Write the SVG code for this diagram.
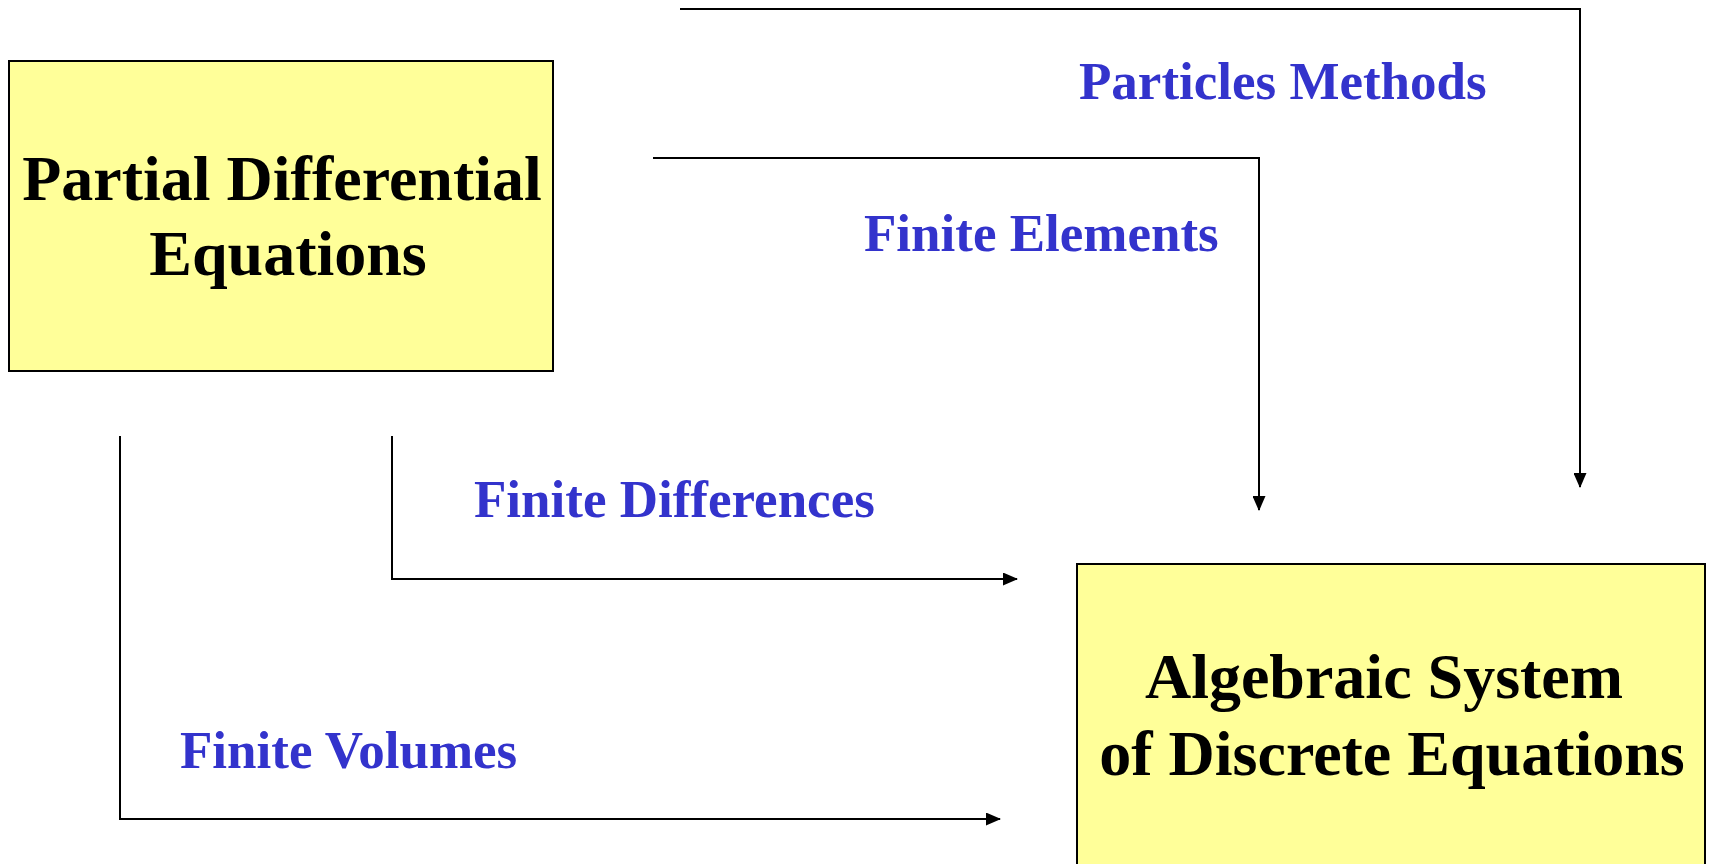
<svg xmlns="http://www.w3.org/2000/svg" width="1709" height="864" viewBox="0 0 1709 864">
<style>
.box{fill:#FFFF99;stroke:#000;stroke-width:2}
.nt{font-family:"Liberation Serif","Times New Roman",serif;font-weight:bold;font-size:64px;fill:#000;text-anchor:middle}
.lb{font-family:"Liberation Serif","Times New Roman",serif;font-weight:bold;font-size:53px;fill:#3333CC}
.cn{fill:none;stroke:#000;stroke-width:2}
</style>
<defs>
<marker id="arr" viewBox="0 0 15 13" refX="14" refY="6.5" markerWidth="15" markerHeight="13" markerUnits="userSpaceOnUse" orient="auto">
<path d="M0,0 L15,6.5 L0,13 z" fill="#000"/>
</marker>
</defs>
<rect width="1709" height="864" fill="#fff"/>
<g id="pde">
<rect class="box" x="9" y="61" width="544" height="310"/>
<text class="nt" x="282" y="200">Partial Differential</text>
<text class="nt" x="288" y="275">Equations</text>
</g>
<g id="algebraic">
<rect class="box" x="1077" y="564" width="628" height="310"/>
<text class="nt" x="1384" y="698">Algebraic System</text>
<text class="nt" x="1392" y="775">of Discrete Equations</text>
</g>
<g id="connectors">
<polyline class="cn" points="680,9 1580,9 1580,487" marker-end="url(#arr)"/>
<polyline class="cn" points="653,158 1259,158 1259,510" marker-end="url(#arr)"/>
<polyline class="cn" points="392,436 392,579 1017,579" marker-end="url(#arr)"/>
<polyline class="cn" points="120,436 120,819 1000,819" marker-end="url(#arr)"/>
</g>
<g id="labels">
<text class="lb" x="1079" y="99">Particles Methods</text>
<text class="lb" x="864" y="251">Finite Elements</text>
<text class="lb" x="474" y="517">Finite Differences</text>
<text class="lb" x="180" y="768">Finite Volumes</text>
</g>
</svg>
